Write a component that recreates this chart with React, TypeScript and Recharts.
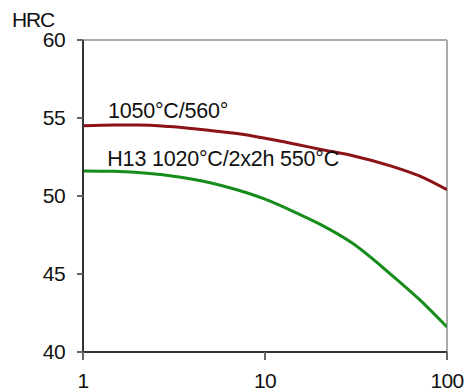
import React from "react";
import { LineChart, Line, XAxis, YAxis, ReferenceLine, ReferenceDot } from "recharts";

const hours = [1, 1.5, 2, 3, 5, 7, 10, 15, 20, 30, 50, 70, 100];
const hrc1050 = [54.5, 54.55, 54.55, 54.45, 54.2, 54.0, 53.7, 53.3, 53.0, 52.6, 51.9, 51.3, 50.4];
const hrcH13 = [51.6, 51.58, 51.5, 51.3, 50.85, 50.4, 49.8, 48.9, 48.2, 47.0, 44.9, 43.4, 41.6];
const xTicks = [1, 10, 100];
const yTicks = [40, 45, 50, 55, 60];
const yUnit = "HRC";
const label1050 = "1050°C/560°";
const labelH13 = "H13 1020°C/2x2h 550°C";

const data = hours.map((h, i) => ({ h, a: hrc1050[i], b: hrcH13[i] }));

const FONT = "'Liberation Sans', Arial, sans-serif";

const textLabel = (value: string) => (props: any) => {
  const vb = props.viewBox || {};
  return (
    <text x={vb.x} y={vb.y} fontSize={21.5} fontFamily={FONT} fill="#111" textAnchor="start" letterSpacing={-0.2}>
      {value}
    </text>
  );
};

const tickStyle = { fontSize: 21, fontFamily: FONT, fill: "#111", letterSpacing: -0.6 };

export default function App() {
  return (
    <div style={{ position: "absolute", left: 0, top: 0, background: "#fff" }}>
      <LineChart width={470} height={392} data={data} margin={{ top: 40, right: 23, bottom: 0, left: 0 }}>
        <XAxis
          dataKey="h"
          type="number"
          scale="log"
          domain={[1, 100]}
          ticks={xTicks}
          allowDataOverflow
          height={40}
          axisLine={{ stroke: "#333", strokeWidth: 2 }}
          tickLine={{ stroke: "#666", strokeWidth: 2 }}
          tickSize={8}
          tickMargin={13}
          tick={tickStyle}
        />
        <YAxis
          type="number"
          domain={[40, 60]}
          ticks={yTicks}
          width={83}
          axisLine={{ stroke: "#333", strokeWidth: 2 }}
          tickLine={{ stroke: "#666", strokeWidth: 2 }}
          tickSize={6}
          tickMargin={12}
          tick={tickStyle}
          label={{
            content: (props: any) => {
              const vb = props.viewBox || {};
              return (
                <text x={vb.x + 12} y={vb.y - 13} fontSize={21} fontFamily={FONT} fill="#111" letterSpacing={-1.2}>
                  {yUnit}
                </text>
              );
            },
          }}
        />
        <ReferenceLine y={60} stroke="#aaa" strokeWidth={2} ifOverflow="extendDomain" />
        <ReferenceLine x={100} stroke="#aaa" strokeWidth={2} />
        <Line dataKey="a" type="monotone" stroke="#8b1216" strokeWidth={3} dot={false} isAnimationActive={false} />
        <Line dataKey="b" type="monotone" stroke="#168c1a" strokeWidth={3} dot={false} isAnimationActive={false} />
        <ReferenceDot x={1.37} y={55} r={0} fill="none" stroke="none" label={{ content: textLabel(label1050) }} />
        <ReferenceDot x={1.36} y={51.9} r={0} fill="none" stroke="none" label={{ content: textLabel(labelH13) }} />
      </LineChart>
    </div>
  );
}
